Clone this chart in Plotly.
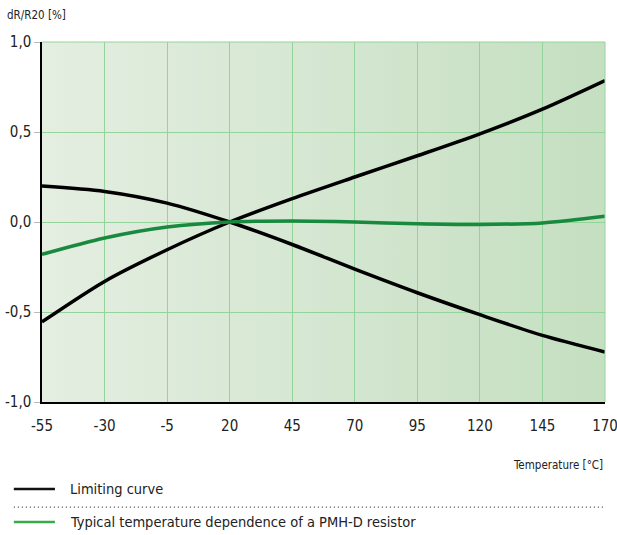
import base64
import plotly.graph_objects as go

temps = [-55, -30, -5, 20, 45, 70, 95, 120, 145, 170]
limit_upper = [-0.555, -0.33, -0.154, 0.0, 0.13, 0.25, 0.368, 0.49, 0.627, 0.786]
limit_lower = [0.20, 0.17, 0.105, 0.0, -0.125, -0.262, -0.393, -0.515, -0.63, -0.722]
typical = [-0.18, -0.089, -0.028, 0.0, 0.005, 0.0, -0.01, -0.014, -0.005, 0.032]

x_ticks = [-55, -30, -5, 20, 45, 70, 95, 120, 145, 170]
y_ticks = [-1.0, -0.5, 0.0, 0.5, 1.0]
y_tick_labels = ["-1,0", "-0,5", "0,0", "0,5", "1,0"]

FONT = "DejaVu Sans Condensed"
GRID = "#94d49c"

svg = ('<svg xmlns="http://www.w3.org/2000/svg" width="100" height="100" preserveAspectRatio="none">'
       '<defs><linearGradient id="g" x1="0" y1="0" x2="1" y2="0">'
       '<stop offset="0" stop-color="#e4eee1"/><stop offset="1" stop-color="#c5dfc1"/>'
       '</linearGradient></defs><rect width="100" height="100" fill="url(#g)"/></svg>')
src = "data:image/svg+xml;base64," + base64.b64encode(svg.encode()).decode()

fig = go.Figure()
for ys in (limit_upper, limit_lower):
    fig.add_trace(go.Scatter(x=temps, y=ys, mode="lines",
                             line=dict(color="#000000", width=3.5, shape="spline", smoothing=0.8),
                             showlegend=False, hoverinfo="skip", cliponaxis=False))
fig.add_trace(go.Scatter(x=temps, y=typical, mode="lines",
                         line=dict(color="#18893e", width=3.5, shape="spline", smoothing=0.8),
                         showlegend=False, hoverinfo="skip", cliponaxis=False))

fig.update_layout(
    width=617, height=535,
    margin=dict(l=42, r=12, t=42, b=133),
    paper_bgcolor="white", plot_bgcolor="rgba(0,0,0,0)",
    font=dict(family=FONT, color="#222222"),
    showlegend=False,
    images=[dict(source=src, xref="paper", yref="paper", x=0, y=1, sizex=1, sizey=1,
                 sizing="stretch", layer="below", xanchor="left", yanchor="top")],
    xaxis=dict(range=[-55, 170], tickvals=x_ticks, ticktext=[str(v) for v in x_ticks],
               showgrid=True, gridcolor=GRID, gridwidth=1, zeroline=False,
               showline=True, linecolor="#000000", linewidth=1.5, automargin=False,
               ticks="", tickfont=dict(size=15, family=FONT, color="#222222"),
               ticklabelstandoff=9, ticklabeloverflow="allow", fixedrange=True),
    yaxis=dict(range=[-1.0, 1.0], tickvals=y_ticks, ticktext=y_tick_labels,
               showgrid=True, gridcolor=GRID, gridwidth=1, zeroline=False,
               showline=True, linecolor="#000000", linewidth=1.5, automargin=False,
               ticks="outside", ticklen=6, tickcolor="#bbbbbb", ticklabeloverflow="allow",
               tickfont=dict(size=15, family=FONT, color="#222222"), fixedrange=True),
    shapes=[
        dict(type="line", xref="paper", yref="paper", x0=0, x1=1, y0=1, y1=1,
             line=dict(color=GRID, width=1)),
        dict(type="line", xref="paper", yref="paper", x0=1, x1=1, y0=0, y1=1,
             line=dict(color=GRID, width=1)),
        # legend
        dict(type="line", xref="paper", yref="paper", x0=-0.05, x1=0.023, y0=-0.242, y1=-0.242,
             line=dict(color="#111111", width=2.5)),
        dict(type="line", xref="paper", yref="paper", x0=-0.05, x1=1.0, y0=-0.292, y1=-0.292,
             line=dict(color="#444444", width=1.3, dash="1px,3px")),
        dict(type="line", xref="paper", yref="paper", x0=-0.05, x1=0.023, y0=-0.333, y1=-0.333,
             line=dict(color="#3aaa48", width=2.5)),
    ],
    annotations=[
        dict(text="dR/R20 [%]", xref="paper", yref="paper", x=-0.066, y=1.075,
             xanchor="left", yanchor="middle", showarrow=False,
             font=dict(size=11.5, family=FONT, color="#222222")),
        dict(text="Temperature [°C]", xref="paper", yref="paper", x=1.0, y=-0.175,
             xanchor="right", yanchor="middle", showarrow=False,
             font=dict(size=11.5, family=FONT, color="#222222")),
        dict(text="Limiting curve", xref="paper", yref="paper", x=0.046, y=-0.242,
             xanchor="left", yanchor="middle", showarrow=False,
             font=dict(size=14.5, family=FONT, color="#222222")),
        dict(text="Typical temperature dependence of a PMH-D resistor", xref="paper", yref="paper",
             x=0.046, y=-0.333, xanchor="left", yanchor="middle", showarrow=False,
             font=dict(size=14.5, family=FONT, color="#222222")),
    ],
)

fig.write_html("out.html", config={"displayModeBar": False},
               post_script="document.body.style.margin='0';")
